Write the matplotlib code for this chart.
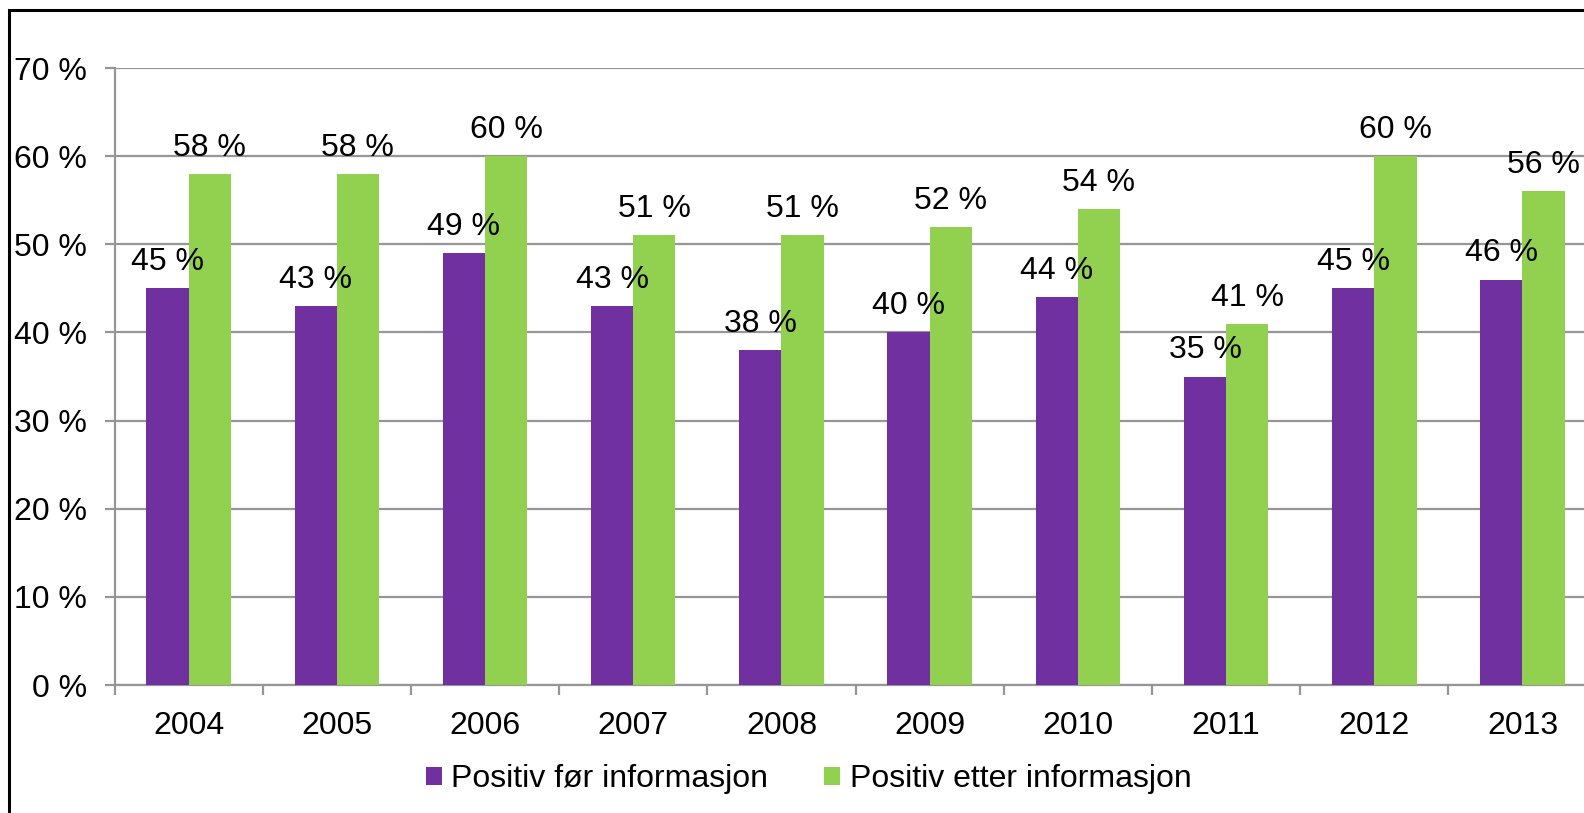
import numpy as np
import matplotlib
matplotlib.use("Agg")
import matplotlib.pyplot as plt
from matplotlib.patches import Rectangle, Patch
from matplotlib.ticker import FixedLocator

plt.rcParams['font.family'] = ['Liberation Sans', 'DejaVu Sans']

years = ["2004", "2005", "2006", "2007", "2008", "2009", "2010", "2011", "2012", "2013"]
before_info = [45, 43, 49, 43, 38, 40, 44, 35, 45, 46]
after_info = [58, 58, 60, 51, 51, 52, 54, 41, 60, 56]
series_names = ["Positiv før informasjon", "Positiv etter informasjon"]
y_ticks = [0, 10, 20, 30, 40, 50, 60, 70]

PURPLE = "#7030A0"
GREEN = "#92D050"
GRID = "#969696"
FS = 23

W, H, DPI = 1584, 813, 100
fig = plt.figure(figsize=(W / DPI, H / DPI), dpi=DPI)

# outer chart frame (runs off the right and bottom edges)
fig.patches.append(Rectangle((9 / W, -0.05), 1.1, 1 - 10 / H + 0.05,
                             transform=fig.transFigure, fill=False,
                             edgecolor="black", linewidth=2.2, zorder=0))

left = 114.5 / W
right = 1596.6 / W
bottom = 1 - 685 / H
top = 1 - 68 / H
ax = fig.add_axes([left, bottom, right - left, top - bottom])

x = np.arange(len(years))
bw = 0.285
b1 = ax.bar(x - bw / 2, before_info, bw, color=PURPLE, zorder=3)
b2 = ax.bar(x + bw / 2, after_info, bw, color=GREEN, zorder=3)

for bars, vals in ((b1, before_info), (b2, after_info)):
    for rect, v in zip(bars, vals):
        ax.annotate(f"{v} %", (rect.get_x() + rect.get_width() / 2, v),
                    xytext=(0, 13), textcoords="offset points",
                    ha="center", va="baseline", fontsize=FS,
                    color="black", zorder=5, annotation_clip=False)

ax.set_xlim(-0.5, len(years) - 0.5)
ax.set_ylim(0, 70)

ax.set_yticks(y_ticks)
ax.set_yticklabels([f"{t} %" for t in y_ticks], fontsize=FS)
ax.yaxis.grid(True, color=GRID, linewidth=1.6, zorder=1)
ax.set_axisbelow(True)

ax.xaxis.set_major_locator(FixedLocator(np.arange(-0.5, len(years), 1.0)))
ax.xaxis.set_minor_locator(FixedLocator(x))
ax.set_xticklabels([], minor=False)
ax.set_xticklabels(years, minor=True, fontsize=FS)
ax.tick_params(axis="x", which="major", length=7, width=1.6, color=GRID)
ax.tick_params(axis="x", which="minor", length=0, pad=19)
ax.tick_params(axis="y", length=7, width=1.6, color=GRID, pad=13)

for s in ("top", "right"):
    ax.spines[s].set_visible(False)
for s in ("left", "bottom"):
    ax.spines[s].set_color(GRID)
    ax.spines[s].set_linewidth(1.6)

handles = [Patch(facecolor=PURPLE), Patch(facecolor=GREEN)]
fig.legend(handles, series_names, loc="center", bbox_to_anchor=(0.5104, 1 - 779 / H),
           ncol=2, frameon=False, fontsize=FS, handlelength=0.5, handleheight=0.5,
           handletextpad=0.3, columnspacing=1.75)

fig.savefig("out.png", dpi=DPI)
